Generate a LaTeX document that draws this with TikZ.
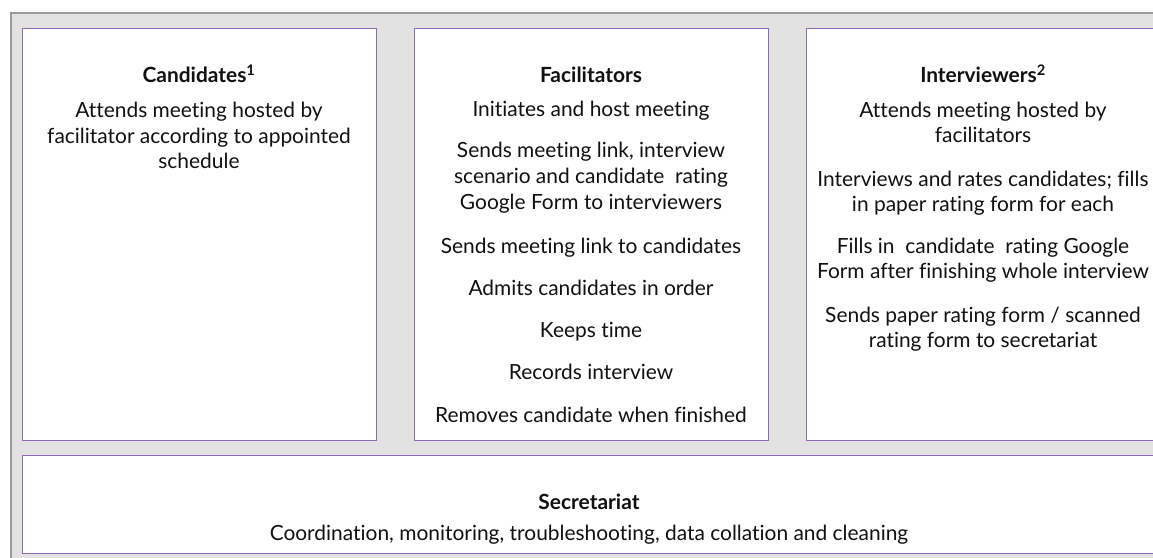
\documentclass[tikz,border=0pt]{standalone}
\usepackage{fontspec}
\setmainfont{Lato}[Ligatures={NoCommon,NoContextual}]
\definecolor{panelgray}{HTML}{E2E2E2}
\definecolor{panelline}{HTML}{9A9A9A}
\definecolor{boxline}{HTML}{8C66B8}
\definecolor{ink}{HTML}{111111}
\begin{document}
\begin{tikzpicture}[x=1bp,y=-1bp,
  panel/.style={draw=panelline, fill=panelgray, line width=1.6bp},
  rolebox/.style={draw=boxline, fill=white, line width=1.2bp, inner sep=0pt,
    anchor=north west},
  head/.style={anchor=base, inner sep=0pt, text=ink,
    font=\fontsize{21}{25}\selectfont\bfseries},
  body/.style={anchor=base, inner sep=0pt, text=ink,
    font=\fontsize{21}{25}\selectfont}]
\useasboundingbox (0,0) rectangle (1153,558);
\clip (0,0) rectangle (1153,558);
\fill[white] (0,0) rectangle (1153,558);
% grey backdrop
\draw[panel] (11,13) rectangle (1190,600);

% the four role boxes
\node[rolebox, minimum width=354bp, minimum height=412bp] (cand) at (22,28) {};
\node[rolebox, minimum width=354bp, minimum height=412bp] (faci) at (414,28) {};
\node[rolebox, minimum width=354bp, minimum height=412bp] (intv) at (806,28) {};
\node[rolebox, minimum width=1138bp, minimum height=98bp] (secr) at (22,455) {};

% Candidates
\node[head] (candT) at (199,83) {Candidates\textsuperscript{1}};
\node[body] (c1) at (199,118) {Attends meeting hosted by};
\node[body] (c2) at (199,143.5) {facilitator according to appointed};
\node[body] (c3) at (199,169) {schedule};

% Facilitators
\node[head] (faciT) at (591,83) {Facilitators};
\node[body] (f1) at (591,117) {Initiates and host meeting};
\node[body] (f2) at (591,158) {Sends meeting link, interview};
\node[body] (f3) at (591,184) {scenario and candidate\ \ rating};
\node[body] (f4) at (591,210) {Google Form to interviewers};
\node[body] (f5) at (591,254) {Sends meeting link to candidates};
\node[body] (f6) at (591,296) {Admits candidates in order};
\node[body] (f7) at (591,338) {Keeps time};
\node[body] (f8) at (591,380) {Records interview};
\node[body] (f9) at (591,422) {Removes candidate when finished};

% Interviewers
\node[head] (intvT) at (983,83) {Interviewers\textsuperscript{2}};
\node[body] (i1) at (983,118) {Attends meeting hosted by};
\node[body] (i2) at (983,143) {facilitators};
\node[body] (i3) at (983,187) {Interviews and rates candidates; fills};
\node[body] (i4) at (983,212) {in paper rating form for each};
\node[body] (i5) at (983,254) {Fills in\ \ candidate\ \ rating Google};
\node[body] (i6) at (983,279) {Form after finishing whole interview};
\node[body] (i7) at (983,323) {Sends paper rating form / scanned};
\node[body] (i8) at (983,348) {rating form to secretariat};

% Secretariat
\node[head] (secrT) at (589,509) {Secretariat};
\node[body] (s1) at (589,540) {Coordination, monitoring, troubleshooting, data collation and cleaning};
\end{tikzpicture}
\end{document}
